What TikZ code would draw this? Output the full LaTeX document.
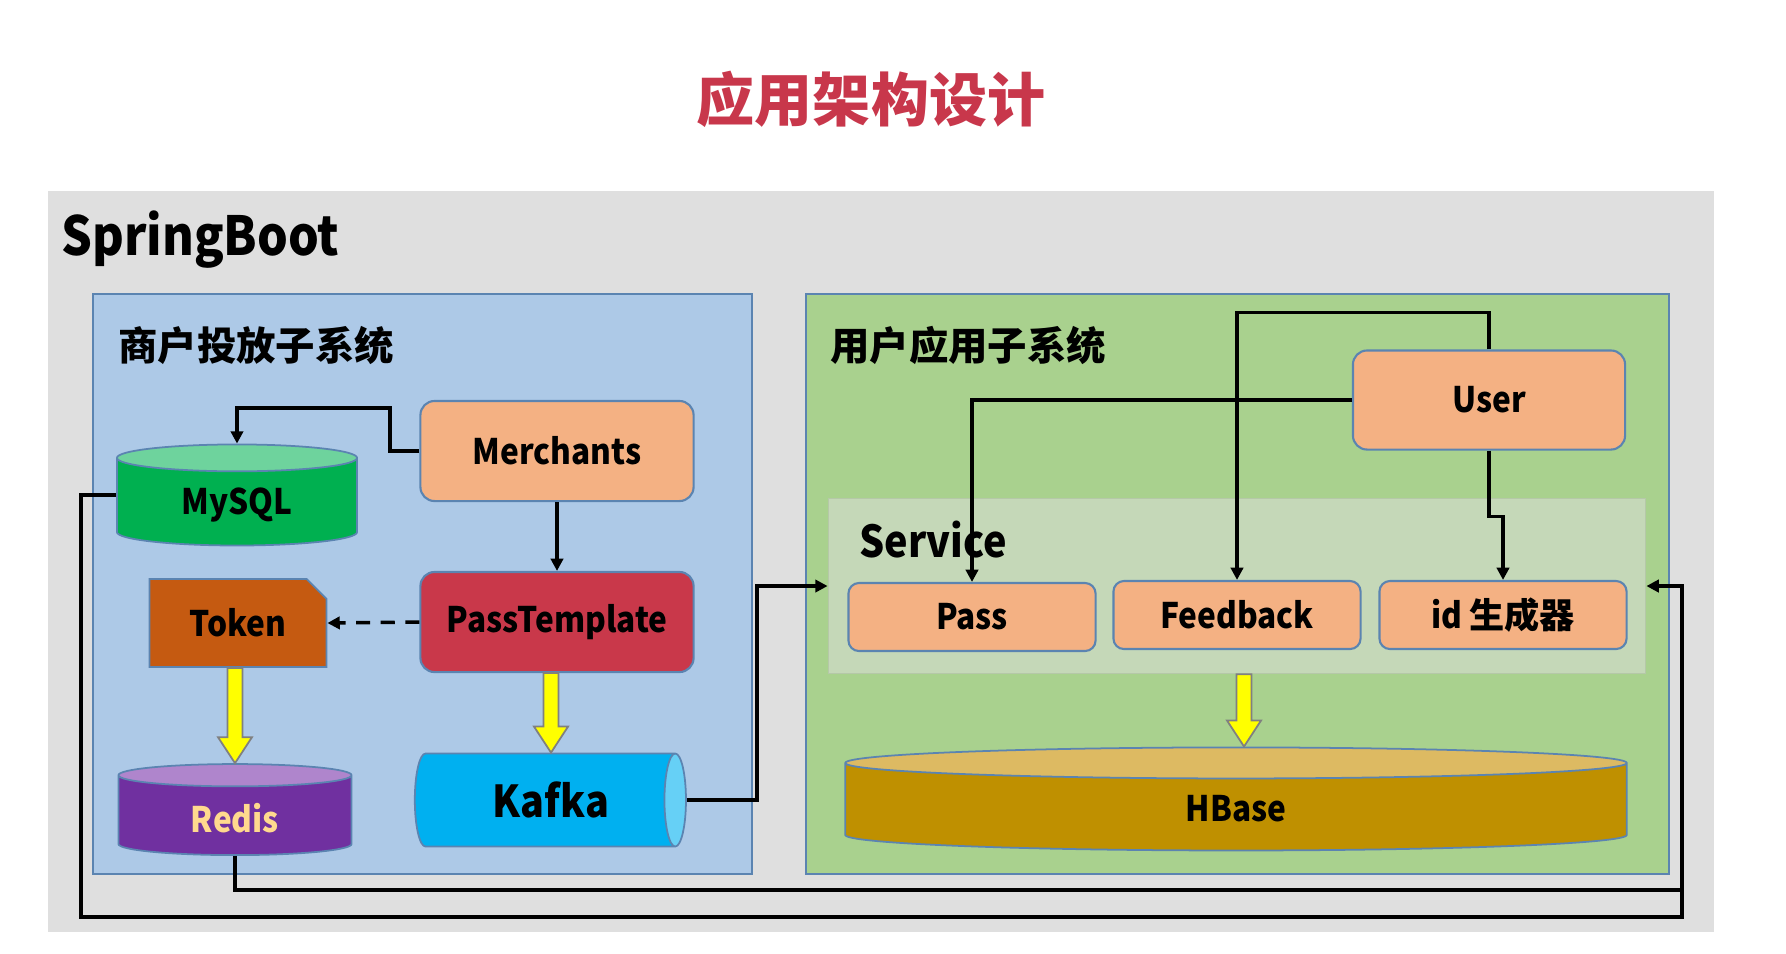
\documentclass[tikz,border=0pt]{standalone}
\usepackage{fontspec}
\setmainfont{Noto Sans CJK SC}
\newfontfamily\latin{Noto Sans CJK SC}[FakeStretch=0.9]
\newfontfamily\cjk{Noto Sans CJK SC}
\usetikzlibrary{positioning, arrows.meta, shapes.geometric, shapes.misc}
\definecolor{titlered}{HTML}{C8374B}
\definecolor{framegray}{HTML}{DFDFDF}
\definecolor{bluebox}{HTML}{ADC9E7}
\definecolor{greenbox}{HTML}{A9D18E}
\definecolor{servicebg}{HTML}{C5D8B8}
\definecolor{serviceedge}{HTML}{B5C8A8}
\definecolor{peach}{HTML}{F4B183}
\definecolor{edgeblue}{HTML}{5B84B1}
\definecolor{mysqlgreen}{HTML}{00B050}
\definecolor{mysqltop}{HTML}{6ED39D}
\definecolor{tokenbrown}{HTML}{C55A11}
\definecolor{passred}{HTML}{C9384A}
\definecolor{redispurple}{HTML}{7030A0}
\definecolor{redistop}{HTML}{AF85CC}
\definecolor{rediscream}{HTML}{FFD98E}
\definecolor{kafkablue}{HTML}{00B0F0}
\definecolor{kafkaend}{HTML}{66D0F6}
\definecolor{hbasegold}{HTML}{BF9000}
\definecolor{hbasetop}{HTML}{DDBA62}
\definecolor{arrowyellow}{HTML}{FFFF00}
\newcommand{\fs}[1]{\bfseries\fontsize{#1}{#1}\selectfont}
% fat yellow arrow from one node anchor down to another
\newcommand{\fatarrow}[3][0cm]{%
  \coordinate (fatB) at ([xshift=#1]#3);
  \coordinate (fatA) at (fatB |- #2);
  \draw[yarrow] ([xshift=-0.075cm]fatA) -- ([xshift=-0.075cm, yshift=0.26cm]fatB)
    -- ([xshift=-0.17cm, yshift=0.26cm]fatB) -- (fatB) -- ([xshift=0.17cm, yshift=0.26cm]fatB)
    -- ([xshift=0.075cm, yshift=0.26cm]fatB) -- ([xshift=0.075cm]fatA) -- cycle;}

\begin{document}
\begin{tikzpicture}[x=0.01cm, y=-0.01cm,
  comp/.style={draw=edgeblue, line width=0.6pt, rounded corners=4pt, fill=peach, font=\latin\fs{10}},
  db/.style={cylinder, shape border rotate=90, draw=edgeblue, line width=0.5pt, cylinder uses custom fill, font=\latin\fs{10}},
  group/.style={draw=edgeblue, line width=0.6pt},
  yarrow/.style={draw=gray, line width=0.5pt, fill=arrowyellow},
  link/.style={line width=1pt, -{Triangle[length=3.5pt, width=3.5pt]}},
  plain/.style={line width=1pt}]
  \useasboundingbox (0,0) rectangle (1786,953);
  \fill[white] (0,0) rectangle (1786,953);
  \node[text=titlered, font=\fs{16.5}] (title) at (871,99) {应用架构设计};
  % frame and subsystems
  \fill[framegray] (48,191) rectangle (1714,932);
  \node[anchor=west, font=\latin\fs{15.3}] (spring) at (49,240) {SpringBoot};
  \draw[group, fill=bluebox] (93,294) rectangle (752,874);
  \draw[group, fill=greenbox] (806,294) rectangle (1669,874);
  \node[anchor=west, font=\fs{11.2}] (mlabel) at (106,345) {商户投放子系统};
  \node[anchor=west, font=\fs{11.2}] (ulabel) at (818,345) {用户应用子系统};
  \node[draw=serviceedge, fill=servicebg, minimum width=8.17cm, minimum height=1.75cm] (service) at (1237,586) {};
  \node[anchor=west, font=\latin\fs{12.5}] (slabel) at (847,540) {Service};
  % merchant side
  \node[comp, minimum width=2.73cm, minimum height=1cm] (merchants) at (557,451) {Merchants};
  \node[comp, fill=passred, minimum width=2.73cm, minimum height=1cm] (passtpl) at (557,622) {PassTemplate};
  \node[db, cylinder body fill=mysqlgreen, cylinder end fill=mysqltop, minimum width=2.4cm, minimum height=1.01cm, aspect=0.2] (mysql) at (237,505) {MySQL};
  \node[chamfered rectangle, chamfered rectangle corners=north east, chamfered rectangle xsep=0.1cm, chamfered rectangle ysep=0.1cm,
    draw=edgeblue, line width=0.5pt, fill=tokenbrown, font=\latin\fs{10}, minimum width=1.77cm, minimum height=0.88cm] (token) at (238,623) {Token};
  \node[db, cylinder body fill=redispurple, cylinder end fill=redistop, text=rediscream, minimum width=2.33cm, minimum height=0.91cm, aspect=0.2] (redis) at (235,818) {Redis};
  \node[db, shape border rotate=0, cylinder body fill=kafkablue, cylinder end fill=kafkaend, font=\latin\fs{12.5}, minimum width=0.93cm, minimum height=2.71cm, aspect=0.36] (kafka) at (541,800) {\hspace*{0.2cm}Kafka};
  % user side
  \node[comp, minimum width=2.72cm, minimum height=0.99cm] (user) at (1489,400) {User};
  \node[comp, rounded corners=3pt, minimum width=2.47cm, minimum height=0.68cm] (pass) at (972,617) {Pass};
  \node[comp, rounded corners=3pt, minimum width=2.47cm, minimum height=0.68cm] (feedback) at (1237,615) {Feedback};
  \node[comp, rounded corners=3pt, minimum width=2.47cm, minimum height=0.68cm] (idgen) at (1503,615) {id {\cjk 生成器}};
  \node[db, cylinder body fill=hbasegold, cylinder end fill=hbasetop, minimum width=7.81cm, minimum height=1.03cm, aspect=0.25] (hbase) at (1236,809) {HBase};
  % yellow arrows
  \fatarrow{token.south}{redis.north}
  \fatarrow[0.1cm]{passtpl.south}{kafka.north}
  \fatarrow[0.08cm]{service.south}{hbase.north}
  % connectors
  \coordinate (mbend) at (390,408);
  \coordinate (kbend) at (757,586);
  \coordinate (lowleft) at (81,917);
  \coordinate (lowright) at (1682,917);
  \coordinate (redisbend) at (1682,890);
  \draw[link] (merchants.west) -| (mbend) -| (mysql.north);
  \draw[link] (merchants.south) -- (passtpl.north);
  \draw[link, dash pattern=on 4pt off 3pt] (passtpl.west) -- (token.east);
  \draw[link] (kafka.east) -| (kbend) -- (service.west);
  \draw[link] ([yshift=0.1cm]mysql.west) -| (lowleft) -- (lowright) |- (service.east);
  \draw[plain] (redis.south) |- (redisbend);
  \draw[link] (user.north) -- ++(0,-37) -| (feedback.north);
  \draw[link] (user.west) -| (pass.north);
  \draw[link] (user.south) -- ++(0,66) -| (idgen.north);
\end{tikzpicture}
\end{document}
